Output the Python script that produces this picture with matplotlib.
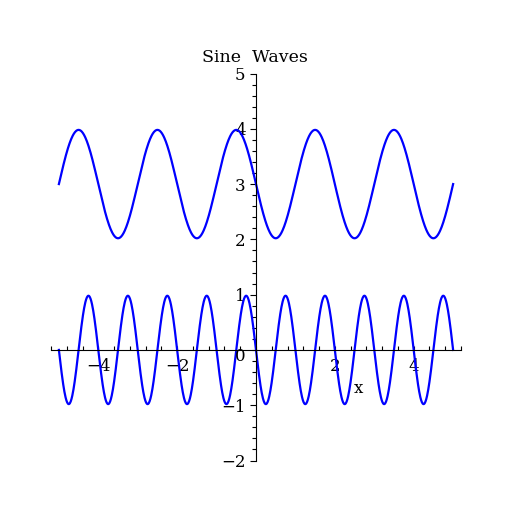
import numpy as np
import matplotlib
matplotlib.use("Agg")
import matplotlib.pyplot as plt
from matplotlib.ticker import FixedLocator

# Data: two sine waves y = offset + amp*sin(2*pi*freq*x)
curve_offsets = [3.0, 0.0]
curve_amplitudes = [-0.98, -0.98]
curve_frequencies = [0.5, 1.0]   # cycles per unit
x_start, x_end = -5.0, 5.0

title = "Sine  Waves"
x_label = "x"
x_tick_values = [-4, -2, 2, 4]
x_tick_labels = ["\u22124", "\u22122", "2", "4"]
y_tick_values = [-2, -1, 1, 2, 3, 4, 5]
y_tick_labels = ["\u22122", "\u22121", "1", "2", "3", "4", "5"]

plt.rcParams['font.family'] = ['DejaVu Serif']

fig = plt.figure(figsize=(5.12, 5.12), dpi=100)
ax = fig.add_axes([51/512, 51.5/512, 410/512, 387/512])
ax.set_xlim(-5.2, 5.2)
ax.set_ylim(-2, 5)

xs = np.linspace(x_start, x_end, 1000)
for off, amp, fr in zip(curve_offsets, curve_amplitudes, curve_frequencies):
    ax.plot(xs, off + amp * np.sin(2 * np.pi * fr * xs), color=(0, 0, 1), lw=1.6,
            clip_on=False)

for s in ['top', 'right']:
    ax.spines[s].set_visible(False)
ax.spines['left'].set_position(('data', 0))
ax.spines['bottom'].set_position(('data', 0))
for s in ['left', 'bottom']:
    ax.spines[s].set_linewidth(0.8)

ax.xaxis.set_major_locator(FixedLocator(x_tick_values))
ax.set_xticklabels(x_tick_labels)
ax.xaxis.set_minor_locator(FixedLocator(np.round(np.arange(-5.2, 5.21, 0.4), 2)))
ax.yaxis.set_major_locator(FixedLocator(y_tick_values))
ax.set_yticklabels(y_tick_labels)
ax.yaxis.set_minor_locator(FixedLocator(np.round(np.arange(-2, 5.01, 0.2), 2)))

ax.tick_params(axis='x', which='both', direction='in', length=3, width=0.8,
               pad=6, labelsize=12)
ax.tick_params(axis='y', which='major', direction='out', length=4.5, width=0.8,
               pad=3, labelsize=12)
ax.tick_params(axis='y', which='minor', direction='out', length=3, width=0.8)

ax.text(-0.4, -0.12, "0", ha='center', va='center', fontsize=12)
ax.text(2.59, -0.70, x_label, ha='center', va='center', fontsize=12)
fig.text(255/512, 1 - 58/512, title, ha='center', va='center', fontsize=12.5)

fig.savefig("out.png", dpi=100)
